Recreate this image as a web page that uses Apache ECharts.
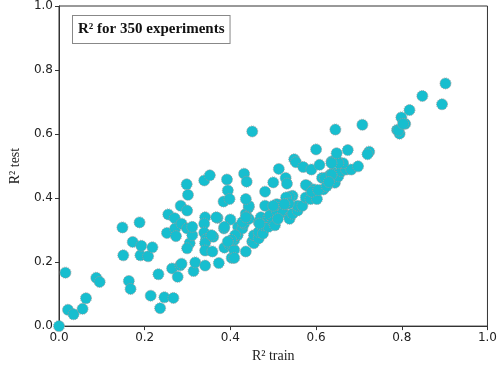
<!DOCTYPE html>
<html>
<head>
<meta charset="utf-8">
<script src="https://cdn.jsdelivr.net/npm/echarts@6/dist/echarts.min.js"></script>
<style>html,body{margin:0;padding:0;background:#fff}#c{width:500px;height:368px}</style>
</head>
<body>
<div id="c"></div>
<script>
var xTicks = [0.0, 0.2, 0.4, 0.6, 0.8, 1.0];
var yTicks = [0.0, 0.2, 0.4, 0.6, 0.8, 1.0];
var r2Train = [
0.000,0.015,0.021,0.034,0.055,0.063,0.087,0.095,0.148,0.150,0.163,0.167,0.172,0.188,0.190,0.192,0.208,0.214,0.218,0.232,
0.236,0.246,0.252,0.255,0.264,0.267,0.270,0.271,0.273,0.277,0.283,0.284,0.286,0.286,0.298,0.301,0.299,0.299,0.305,0.299,
0.311,0.314,0.318,0.339,0.352,0.341,0.339,0.339,0.343,0.341,0.341,0.341,0.358,0.360,0.370,0.373,0.385,0.386,0.384,0.392,
0.394,0.398,0.400,0.403,0.398,0.409,0.409,0.409,0.417,0.418,0.428,0.432,0.436,0.443,0.443,0.443,0.436,0.451,0.455,0.455,
0.466,0.466,0.466,0.476,0.471,0.477,0.481,0.481,0.489,0.489,0.492,0.500,0.504,0.508,0.515,0.523,0.538,0.538,0.545,0.557,
0.557,0.568,0.545,0.538,0.530,0.576,0.587,0.602,0.580,0.576,0.595,0.617,0.614,0.633,0.644,0.640,0.652,0.659,0.670,0.682,
0.698,0.663,0.648,0.636,0.652,0.648,0.674,0.724,0.720,0.645,0.708,0.600,0.549,0.553,0.570,0.589,0.608,0.513,0.432,0.438,
0.500,0.529,0.532,0.451,0.436,0.508,0.530,0.536,0.500,0.311,0.428,0.436,0.411,0.402,0.394,0.386,0.468,0.526,0.511,0.621,
0.636,0.636,0.590,0.605,0.625,0.630,0.902,0.848,0.894,0.818,0.799,0.808,0.789,0.795,0.792,0.803,0.367,0.356
];
var r2Test = [
0.000,0.167,0.051,0.037,0.054,0.087,0.151,0.138,0.308,0.221,0.141,0.116,0.263,0.324,0.221,0.251,0.218,0.095,0.246,0.162,
0.056,0.090,0.291,0.349,0.180,0.088,0.337,0.305,0.281,0.154,0.190,0.376,0.320,0.195,0.443,0.410,0.361,0.305,0.259,0.243,
0.284,0.172,0.199,0.455,0.471,0.340,0.320,0.292,0.271,0.259,0.236,0.189,0.233,0.279,0.338,0.197,0.305,0.245,0.389,0.458,
0.424,0.397,0.333,0.213,0.254,0.238,0.213,0.269,0.284,0.310,0.305,0.320,0.351,0.335,0.371,0.376,0.233,0.264,0.259,0.284,
0.274,0.294,0.325,0.289,0.340,0.315,0.376,0.420,0.310,0.340,0.346,0.325,0.315,0.361,0.379,0.356,0.340,0.335,0.351,0.361,
0.376,0.376,0.407,0.404,0.402,0.402,0.397,0.397,0.438,0.441,0.427,0.427,0.463,0.473,0.448,0.479,0.468,0.484,0.489,0.489,
0.499,0.509,0.519,0.514,0.509,0.540,0.550,0.545,0.537,0.614,0.629,0.552,0.521,0.512,0.497,0.489,0.504,0.491,0.476,0.451,
0.449,0.463,0.445,0.608,0.397,0.381,0.381,0.383,0.376,0.310,0.325,0.340,0.284,0.269,0.264,0.310,0.320,0.381,0.335,0.463,
0.509,0.473,0.420,0.425,0.437,0.450,0.758,0.719,0.693,0.675,0.652,0.632,0.613,0.601,0.611,0.632,0.340,0.284
];
var points = r2Train.map(function (x, i) { return [x, r2Test[i]]; });

var chart = echarts.init(document.getElementById('c'), null, {renderer: 'canvas'});
var axisCommon = {
  type: 'value', min: 0, max: 1, interval: 0.2,
  axisLine: {show: true, lineStyle: {color: '#333', width: 1}},
  axisTick: {show: true, length: 4, lineStyle: {color: '#333'}},
  axisLabel: {color: '#222', fontFamily: 'DejaVu Sans', fontSize: 12, formatter: function (v) { return v.toFixed(1); }},
  splitLine: {show: false}
};
chart.setOption({
  animation: false,
  grid: {left: 50, right: 10, top: 5, bottom: 37, show: true, borderColor: '#333', borderWidth: 1, backgroundColor: 'transparent'},
  xAxis: Object.assign({}, axisCommon, {
    name: 'R\u00b2 train', nameLocation: 'middle', nameGap: 17,
    nameTextStyle: {fontFamily: 'Liberation Serif', fontSize: 14, color: '#222'},
    axisLabel: Object.assign({}, axisCommon.axisLabel, {margin: 6})
  }),
  yAxis: Object.assign({}, axisCommon, {
    name: 'R\u00b2 test', nameLocation: 'middle', nameGap: 37,
    nameTextStyle: {fontFamily: 'Liberation Serif', fontSize: 14, color: '#222'},
    axisLabel: Object.assign({}, axisCommon.axisLabel, {margin: 6})
  }),
  series: [{
    type: 'scatter',
    data: points,
    symbolSize: 11,
    itemStyle: {color: '#17becf', borderColor: '#9a9a9a', borderWidth: 1, borderType: 'dotted', opacity: 1}
  }],
  graphic: [{
    type: 'text', left: 72, top: 15, z: 100,
    style: {
      text: 'R\u00b2 for 350 experiments',
      font: 'bold 15px "Liberation Serif"',
      fill: '#111',
      backgroundColor: '#fff',
      borderColor: '#888',
      borderWidth: 1,
      padding: [6, 5, 6, 5]
    }
  }]
});
</script>
</body>
</html>
